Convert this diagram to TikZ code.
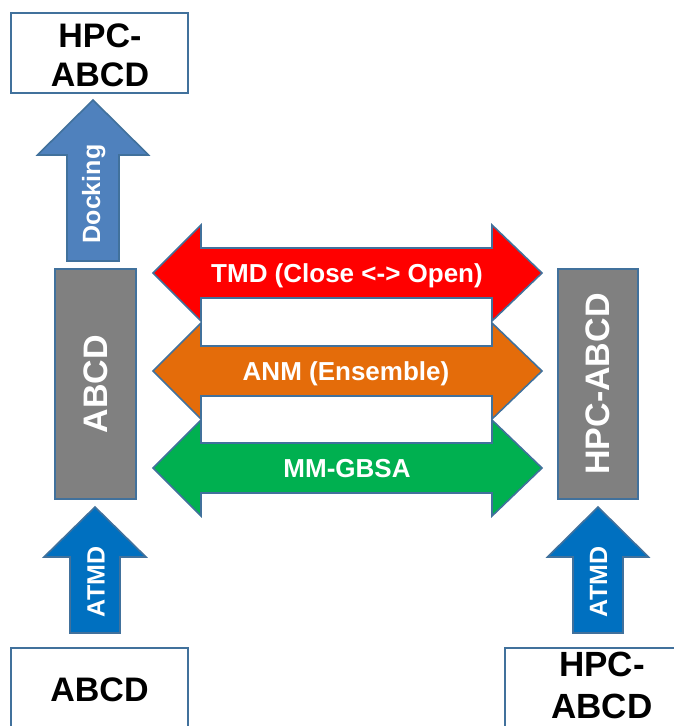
\documentclass[tikz,border=0pt]{standalone}
\usepackage{fontspec}
\setmainfont{Liberation Sans}
\definecolor{outline}{HTML}{41719C}
\definecolor{boxgray}{HTML}{808080}
\definecolor{tmdred}{HTML}{FF0000}
\definecolor{anmorange}{HTML}{E46C0A}
\definecolor{gbsagreen}{HTML}{00B050}
\definecolor{dockblue}{HTML}{4F81BD}
\definecolor{atmdblue}{HTML}{0070C0}
\newcommand{\dblarrow}[2]{%
  \filldraw[outl, fill=#2] (153,#1) -- (201,{#1-48}) -- (201,{#1-25}) -- (492,{#1-25}) -- (492,{#1-48})
    -- (542,#1) -- (492,{#1+48}) -- (492,{#1+25}) -- (201,{#1+25}) -- (201,{#1+48}) -- cycle;}
\newcommand{\uparr}[7]{%
  \filldraw[outl, fill=#7] (#1,#2) -- ({#1+#4},#3) -- ({#1+#5},#3) -- ({#1+#5},#6)
    -- ({#1-#5},#6) -- ({#1-#5},#3) -- ({#1-#4},#3) -- cycle;}
\begin{document}
\begin{tikzpicture}[x=1pt,y=-1pt,
  outl/.style={draw=outline, line width=1.6pt, line join=miter},
  whitebox/.style={outl, fill=white, inner sep=0pt},
  boxtext/.style={inner sep=0pt, align=center, font=\fontsize{34}{39}\selectfont\bfseries},
  graybox/.style={outl, fill=boxgray, text=white, inner sep=0pt,
    font=\fontsize{34}{40}\selectfont\bfseries},
  arrowlabel/.style={text=white, font=\fontsize{26}{30}\selectfont\bfseries, inner sep=0pt, anchor=base},
  vlabel/.style={text=white, font=\fontsize{25}{30}\selectfont\bfseries, inner sep=0pt, rotate=90, anchor=base}]
\useasboundingbox (0,0) rectangle (673,726);

% boxes
\node[whitebox, minimum width=177pt, minimum height=80pt] (hpctop) at (99.5,53) {};
\node[boxtext] (hpctoptext) at (100,55) {HPC-\\ABCD};
\node[graybox, rotate=90, minimum width=230pt, minimum height=81pt] (abcd) at (95.5,384) {ABCD};
\node[graybox, rotate=90, minimum width=230pt, minimum height=80pt] (hpcabcd) at (598,384) {HPC-ABCD};
\node[whitebox, minimum width=177pt, minimum height=82pt] (abcdbot) at (99.5,689) {};
\node[boxtext] (abcdbottext) at (99.5,689.5) {ABCD};
\node[whitebox, minimum width=195pt, minimum height=86pt] (hpcbot) at (602.5,691) {};
\node[boxtext, font=\fontsize{35}{42}\selectfont\bfseries] (hpcbottext) at (602,685) {HPC-\\ABCD};

% up arrows
\uparr{93}{100}{155}{55.5}{26}{261}{dockblue}
\uparr{95}{507}{557}{51}{25}{633}{atmdblue}
\uparr{598}{507}{557}{50.5}{25}{633}{atmdblue}
\node[vlabel] (dock) at (100,194) {Docking};
\node[vlabel] (atmdl) at (104.5,582) {ATMD};
\node[vlabel] (atmdr) at (607,582) {ATMD};

% double arrows
\dblarrow{273}{tmdred}
\dblarrow{371}{anmorange}
\dblarrow{468}{gbsagreen}
\node[arrowlabel] (tmd) at (347,282) {TMD (Close <-> Open)};
\node[arrowlabel] (anm) at (346,380) {ANM (Ensemble)};
\node[arrowlabel] (gbsa) at (347,477) {MM-GBSA};
\end{tikzpicture}
\end{document}
